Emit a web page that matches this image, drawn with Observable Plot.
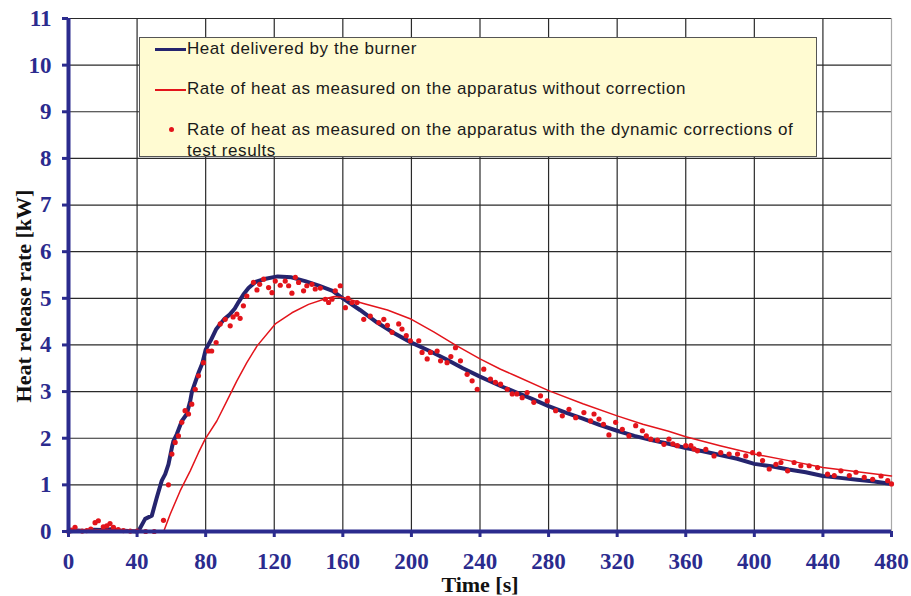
<!DOCTYPE html>
<html>
<head>
<meta charset="utf-8">
<script src="https://cdn.jsdelivr.net/npm/d3@7"></script>
<script src="https://cdn.jsdelivr.net/npm/@observablehq/plot@0.6"></script>
<style>
  body { margin: 0; background: #fff; }
  #wrap { position: relative; width: 911px; height: 596px; overflow: hidden; }
  #legend { position: absolute; left: 139px; top: 37px; width: 678px; height: 120px;
            background: #FFFBD2; border: 1px solid #555; box-sizing: border-box;
            font-family: "Liberation Sans", Arial, sans-serif; font-size: 17px;
            letter-spacing: 0.55px; color: #1a1a1a; }
  .li { position: absolute; left: 47px; white-space: nowrap; line-height: 20px; }
  .sw { position: absolute; left: 15px; width: 31px; }
  .dotsw { position: absolute; width: 5px; height: 5px; border-radius: 50%; background: #e3141b; }
</style>
</head>
<body>
<div id="wrap">
  <div id="chart"></div>
  <div id="legend"></div>
</div>
<script>
// ---- tick labels ----
const xTicks = [0, 40, 80, 120, 160, 200, 240, 280, 320, 360, 400, 440, 480];
const yTicks = [0, 1, 2, 3, 4, 5, 6, 7, 8, 9, 10, 11];

// ---- series names ----
const seriesNames = [
  "Heat delivered by the burner",
  "Rate of heat as measured on the apparatus without correction",
  "Rate of heat as measured on the apparatus with the dynamic corrections of test results"
];

// ---- Heat delivered by the burner (time s, kW) ----
const burnerT = [0, 5, 10, 15, 20, 25, 30, 35, 40, 41, 44.7, 48.6, 51.5, 54.4, 56.4, 58.3, 60.3, 61.2, 63.2, 66.1, 69, 71, 72, 76, 78, 80, 83, 86, 88.5, 91, 94, 97, 99.2, 102, 105, 109, 115, 122, 130, 138, 146, 154, 160, 170, 180, 190, 200, 210, 220, 230, 240, 252, 260, 270, 280, 290, 300, 310, 320, 330, 340, 350, 360, 370, 380, 390, 400, 410, 420, 430, 440, 450, 460, 470, 480];
const burnerKW = [0, 0.02, 0.01, 0.04, 0.03, 0.05, 0.02, 0.01, 0, 0.02, 0.27, 0.34, 0.73, 1.09, 1.23, 1.44, 1.80, 1.94, 2.09, 2.37, 2.52, 2.80, 3.0, 3.42, 3.6, 3.9, 4.1, 4.33, 4.45, 4.56, 4.65, 4.78, 4.92, 5.08, 5.22, 5.35, 5.42, 5.47, 5.45, 5.37, 5.27, 5.16, 5.0, 4.75, 4.48, 4.25, 4.05, 3.88, 3.70, 3.50, 3.32, 3.12, 3.0, 2.85, 2.69, 2.55, 2.42, 2.28, 2.16, 2.05, 1.96, 1.88, 1.79, 1.72, 1.64, 1.56, 1.45, 1.40, 1.33, 1.27, 1.19, 1.15, 1.11, 1.07, 1.02];

// ---- Rate of heat without correction (time s, kW) ----
const rawT = [0, 10, 20, 30, 40, 50, 55.5, 59.3, 65.1, 71, 75.8, 79.7, 86.5, 92.4, 98.2, 104, 110, 120.6, 130.3, 140, 149.8, 155, 160, 172, 186, 200, 213, 226, 240, 252, 260, 280, 300, 320, 335, 350, 360, 380, 400, 420, 440, 460, 480];
const rawKW = [0.02, 0.03, 0.04, 0.03, 0.02, 0.01, 0, 0.37, 0.87, 1.30, 1.69, 1.98, 2.37, 2.80, 3.23, 3.62, 3.98, 4.45, 4.69, 4.87, 4.99, 5.04, 5.02, 4.89, 4.75, 4.55, 4.28, 3.99, 3.70, 3.48, 3.35, 3.02, 2.74, 2.48, 2.30, 2.15, 2.03, 1.84, 1.66, 1.52, 1.37, 1.28, 1.19];

// ---- Rate of heat with dynamic corrections (time s, kW) ----
const corrT = [0, 1.5, 3.8, 8, 10.6, 13, 15.5, 17.4, 20.3, 22.3, 24.2, 26.2, 29, 32, 36, 40, 45, 50, 55.4, 58.3, 60.3, 62.2, 64.1, 66.1, 68, 70, 71.9, 73.9, 75.8, 78.7, 81.6, 83.5, 86.1, 88.5, 91.4, 94.3, 96, 98.2, 100.1, 102, 104, 107.9, 109.9, 111.5, 113.8, 116.7, 118.7, 120.6, 123.5, 126.4, 128.4, 130.3, 132.3, 134.2, 137.1, 139, 142, 143.9, 146.9, 149.8, 151.7, 153.7, 155.6, 158.5, 161.5, 163, 165.4, 168.3, 172.2, 176, 181, 183.9, 186, 188.7, 192.6, 194.5, 197, 199.4, 204.3, 206.2, 209.2, 211.1, 215, 217, 220.8, 223, 225.7, 228.6, 232.5, 235.4, 238.4, 242.2, 246.1, 249, 252, 255.9, 258.8, 261.5, 264.6, 267.5, 271.4, 275.3, 279.2, 284.1, 288, 291.9, 295.8, 300.6, 304.5, 306.5, 309.4, 312, 315.2, 319.1, 323, 326.9, 330.8, 334.7, 337, 339.6, 343.5, 347.3, 350.2, 352.5, 355.1, 360, 363, 364.8, 366.8, 371.7, 376.5, 380.4, 385.3, 390.2, 395, 399, 402.8, 404.8, 408.7, 412.6, 415.5, 419.4, 423.2, 427.1, 432, 436.9, 442.7, 446.6, 450.5, 455.4, 459.3, 464.1, 469, 473.9, 477.8, 480];
const corrKW = [0.0, 0.03, 0.09, 0.01, 0.02, 0.05, 0.19, 0.23, 0.10, 0.12, 0.17, 0.09, 0.04, 0.02, 0.01, 0.01, 0.0, 0.0, 0.24, 1.0, 1.66, 1.91, 2.05, 2.34, 2.59, 2.52, 2.73, 3.05, 3.34, 3.62, 3.87, 3.87, 4.05, 4.45, 4.55, 4.41, 4.6, 4.66, 4.57, 4.84, 5.05, 5.34, 5.18, 5.3, 5.41, 5.23, 5.12, 5.37, 5.28, 5.37, 5.27, 5.11, 5.45, 5.34, 5.16, 5.27, 5.30, 5.20, 5.22, 4.98, 4.91, 4.98, 5.16, 5.27, 4.80, 5.0, 4.91, 4.91, 4.55, 4.62, 4.48, 4.55, 4.42, 4.27, 4.45, 4.34, 4.2, 4.09, 4.09, 3.84, 3.70, 3.84, 3.87, 3.66, 3.62, 3.75, 3.94, 3.66, 3.37, 3.23, 3.05, 3.48, 3.27, 3.2, 3.16, 3.05, 2.95, 2.95, 2.87, 2.98, 2.77, 2.91, 2.80, 2.59, 2.48, 2.62, 2.44, 2.55, 2.37, 2.52, 2.41, 2.3, 2.07, 2.34, 2.19, 2.05, 2.27, 2.16, 2.05, 1.98, 1.96, 1.87, 1.98, 1.88, 1.84, 1.84, 1.84, 1.77, 1.73, 1.76, 1.62, 1.69, 1.66, 1.66, 1.62, 1.69, 1.66, 1.52, 1.34, 1.44, 1.48, 1.30, 1.48, 1.41, 1.41, 1.37, 1.23, 1.20, 1.30, 1.20, 1.27, 1.16, 1.12, 1.19, 1.09, 1.02];

const burner = burnerT.map((t, i) => ({t, v: burnerKW[i]}));
const raw = rawT.map((t, i) => ({t, v: rawKW[i]}));
const corr = corrT.map((t, i) => ({t, v: corrKW[i]}));

const navyLine = "#25246e";
const axisNavy = "#2b2b8e";
const red = "#e3141b";

const plot = Plot.plot({
  width: 911,
  height: 596,
  marginLeft: 68,
  marginRight: 20,
  marginTop: 18,
  marginBottom: 65,
  style: {background: "white", fontFamily: "'Liberation Serif', 'Times New Roman', serif"},
  x: {domain: [0, 480]},
  y: {domain: [0, 11]},
  marks: [
    Plot.gridX(xTicks.filter(d => d > 0 && d < 480), {stroke: "#2a2a2a", strokeOpacity: 1, strokeWidth: 1.2}),
    Plot.gridY(yTicks.filter(d => d > 0), {stroke: "#2a2a2a", strokeOpacity: 1, strokeWidth: 1.2}),
    Plot.ruleX([480], {stroke: "#a8a8a8", strokeWidth: 1.2}),
    Plot.line(burner, {x: "t", y: "v", stroke: navyLine, strokeWidth: 4, curve: "linear"}),
    Plot.line(raw, {x: "t", y: "v", stroke: red, strokeWidth: 1.5}),
    Plot.dot(corr, {x: "t", y: "v", r: 2.6, fill: red, stroke: "none"}),
    Plot.ruleX([0], {stroke: axisNavy, strokeWidth: 4}),
    Plot.ruleY([0], {stroke: axisNavy, strokeWidth: 4}),
    Plot.axisX(xTicks, {tickSize: 6, tickPadding: 15, strokeWidth: 3, color: axisNavy, fontSize: 23, fontWeight: "bold", label: null}),
    Plot.axisY(yTicks, {tickSize: 6, tickPadding: 11, strokeWidth: 3, color: axisNavy, fontSize: 23, fontWeight: "bold", label: null})
  ]
});
document.getElementById("chart").appendChild(plot);

// axis titles
const svg = d3.select(plot);
svg.append("text")
  .attr("x", 480).attr("y", 592)
  .attr("text-anchor", "middle")
  .attr("font-family", "'Liberation Serif', 'Times New Roman', serif")
  .attr("font-weight", "bold").attr("font-size", 22).attr("fill", "#111")
  .text("Time [s]");
svg.append("text")
  .attr("transform", "translate(31,296) rotate(-90)")
  .attr("text-anchor", "middle")
  .attr("font-family", "'Liberation Serif', 'Times New Roman', serif")
  .attr("font-weight", "bold").attr("font-size", 22).attr("fill", "#111")
  .text("Heat release rate [kW]");

// legend
const lg = d3.select("#legend");
lg.append("div").attr("class", "sw").style("top", "10px").style("height", "3px").style("background", navyLine);
lg.append("div").attr("class", "li").style("top", "1px").text(seriesNames[0]);
lg.append("div").attr("class", "sw").style("top", "51px").style("height", "2px").style("background", red);
lg.append("div").attr("class", "li").style("top", "41px").text(seriesNames[1]);
lg.append("div").attr("class", "dotsw").style("left", "29px").style("top", "89px");
lg.append("div").attr("class", "li").style("top", "81px").style("line-height", "21px")
  .html("Rate of heat as measured on the apparatus with the dynamic corrections of<br>test results");
</script>
</body>
</html>
